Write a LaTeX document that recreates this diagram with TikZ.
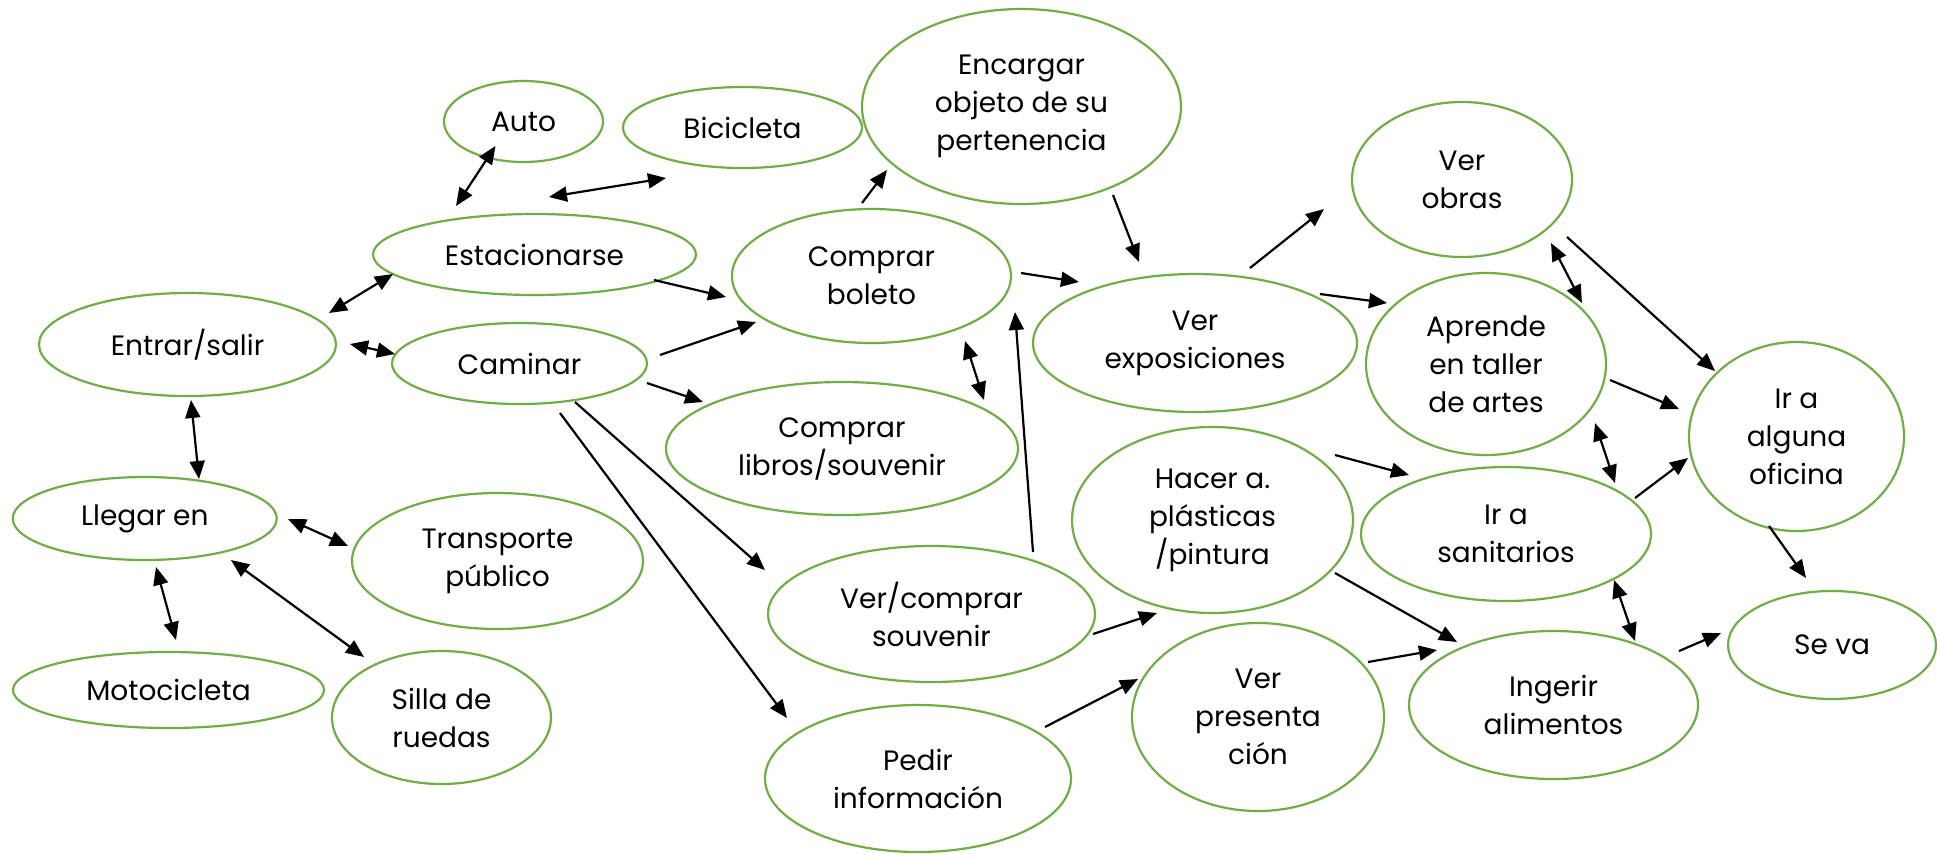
\documentclass[tikz,border=0pt]{standalone}
\usepackage{fontspec}
\setmainfont{Poppins}
\usetikzlibrary{arrows.meta,shapes.geometric}
\definecolor{ellgreen}{HTML}{70AD47}
\newcommand\ellnode[6]{%
  \node[ell, minimum width=#4pt, minimum height=#5pt] (#1) at (#2,#3) {};
  \node[lbl] (#1-t) at (#1.center) {#6};}
\newcommand\conn[5]{\draw[con,#1] ([shift={(#3)}]#2.center) -- ([shift={(#5)}]#4.center);}
\begin{document}
\begin{tikzpicture}[x=0.5pt,y=-0.5pt,
  ell/.style={draw=ellgreen, line width=1.1pt, shape=ellipse, inner sep=0pt},
  lbl/.style={align=center, inner sep=0pt, font=\fontsize{14pt}{19pt}\selectfont},
  con/.style={draw=black, line width=1.1pt, >={Triangle[length=9pt,width=7.5pt]}}]
\fill[white] (0,0) rectangle (1937,853);
\useasboundingbox (0,0) rectangle (1937,853);
% nodes: name, cx, cy, rx, ry (px), text
\ellnode{car}{523.5}{121.5}{79.5}{40.5}{Auto}
\ellnode{bike}{742.5}{127.5}{119.5}{40.5}{Bicicleta}
\ellnode{enc}{1021.5}{106.5}{159.5}{97.5}{Encargar\\objeto de su\\pertenencia}
\ellnode{park}{534.5}{254.5}{161.5}{40.5}{Estacionarse}
\ellnode{ent}{187.5}{344.5}{148.5}{51.5}{Entrar/salir}
\ellnode{walk}{519.5}{363.5}{127.5}{40.5}{Caminar}
\ellnode{tick}{871.5}{276}{139.5}{67}{Comprar\\boleto}
\ellnode{books}{842}{448.5}{176}{66.5}{Comprar\\libros/souvenir}
\ellnode{expo}{1195}{343}{162}{69}{Ver\\exposiciones}
\ellnode{works}{1462}{179.5}{110}{77.5}{Ver\\obras}
\ellnode{learn}{1486}{364}{120}{91}{Aprende\\en taller\\de artes}
\ellnode{office}{1796.5}{436.5}{107.5}{94.5}{Ir a\\alguna\\oficina}
\ellnode{craft}{1212.5}{520}{140.5}{93}{Hacer a.\\plásticas\\/pintura}
\ellnode{wc}{1506}{534}{145}{67}{Ir a\\sanitarios}
\ellnode{arrive}{144.75}{518.5}{132}{41.5}{Llegar en}
\ellnode{bus}{497.5}{561}{145.5}{68}{Transporte\\público}
\ellnode{shop}{931.5}{614}{163.5}{68}{Ver/comprar\\souvenir}
\ellnode{moto}{168.5}{690}{155.5}{38}{Motocicleta}
\ellnode{chair}{441.5}{717.5}{109.5}{66.5}{Silla de\\ruedas}
\ellnode{info}{918}{778.5}{153}{73.5}{Pedir\\información}
\ellnode{show}{1258}{717}{126}{94}{Ver\\presenta\\ción}
\ellnode{eat}{1553.5}{705}{144.5}{74}{Ingerir\\alimentos}
\ellnode{leave}{1832}{645}{104}{54}{Se va}
% connectors
\conn{<->}{park}{-78.5,-48.5}{car}{-28,24.5}
\conn{<->}{park}{14.5,-57.5}{bike}{-76.5,50.5}
\conn{<->}{ent}{141.5,-31.5}{park}{-141.5,19.5}
\conn{<->}{ent}{162.5,-0.5}{walk}{-124.5,-9.5}
\conn{<->}{ent}{3.5,55.5}{arrive}{54.25,-39.5}
\conn{<->}{arrive}{143.25,0.5}{bus}{-149.5,-15}
\conn{<->}{arrive}{11.25,48.5}{moto}{7.5,-50}
\conn{<->}{arrive}{86.25,41.5}{chair}{-77.5,-60.5}
\conn{->}{park}{119.5,25.5}{tick}{-145.5,21}
\conn{->}{walk}{140.5,-8.5}{tick}{-115.5,46}
\conn{->}{walk}{127.5,19.5}{books}{-139,-46.5}
\conn{->}{walk}{55.5,38.5}{shop}{-166.5,-44}
\conn{->}{walk}{40.5,49.5}{info}{-131,-60.5}
\conn{->}{tick}{-9.5,-73}{enc}{-134.5,63.5}
\conn{->}{tick}{149.5,-3}{expo}{-116,-61}
\conn{<->}{tick}{93.5,65}{books}{142,-48.5}
\conn{->}{shop}{101.5,-62}{tick}{143.5,36}
\conn{->}{enc}{91.5,88.5}{expo}{-56,-81}
\conn{->}{expo}{55,-75}{works}{-138,29.5}
\conn{->}{expo}{125,-49}{learn}{-99,-61}
\conn{->}{craft}{122.5,-65}{wc}{-97,-59}
\conn{->}{craft}{122.5,53}{eat}{-96.5,-63}
\conn{->}{shop}{161.5,20}{craft}{-55.5,93}
\conn{->}{info}{127,-51.5}{show}{-120,-38}
\conn{->}{show}{110,-55}{eat}{-116.5,-55}
\conn{<->}{works}{89,63.5}{learn}{96,-61}
\conn{->}{works}{105,57.5}{office}{-81.5,-65.5}
\conn{->}{learn}{124,16}{office}{-117.5,-27.5}
\conn{<->}{learn}{109,59}{wc}{109,-51}
\conn{->}{wc}{129,-36}{office}{-108.5,21.5}
\conn{->}{office}{-27.5,89.5}{leave}{-26,-67}
\conn{<->}{wc}{108,46}{eat}{81.5,-64}
\conn{->}{eat}{125.5,-54}{leave}{-111,-12}
\end{tikzpicture}
\end{document}
